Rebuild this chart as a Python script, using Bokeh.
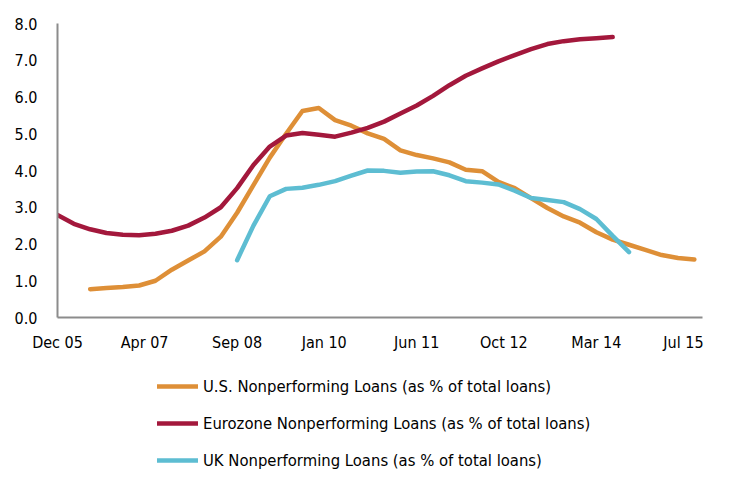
from bokeh.plotting import figure
from bokeh.layouts import column
from bokeh.models import Range1d, FixedTicker, NumeralTickFormatter, Legend, LegendItem
from bokeh.embed import file_html
from bokeh.resources import INLINE

# Quarterly observations; x = months since Dec 2005
tick_months = [0, 16, 33, 49, 66, 82, 99, 115]
tick_labels = ["Dec 05", "Apr 07", "Sep 08", "Jan 10", "Jun 11", "Oct 12", "Mar 14", "Jul 15"]

us_months = list(range(6, 118, 3))
us_values = [0.77, 0.80, 0.83, 0.87, 1.00, 1.30, 1.55, 1.80, 2.20, 2.85,
             3.60, 4.35, 5.00, 5.62, 5.70, 5.37, 5.22, 5.01, 4.86, 4.55,
             4.42, 4.33, 4.22, 4.02, 3.98, 3.69, 3.52, 3.25, 2.98, 2.75,
             2.58, 2.32, 2.12, 1.98, 1.84, 1.70, 1.62, 1.58]

ez_months = list(range(0, 103, 3))
ez_values = [2.79, 2.55, 2.40, 2.30, 2.25, 2.24, 2.28, 2.36, 2.50, 2.72,
             3.00, 3.52, 4.15, 4.65, 4.95, 5.02, 4.97, 4.92, 5.03, 5.16,
             5.33, 5.55, 5.77, 6.03, 6.32, 6.58, 6.78, 6.97, 7.14, 7.30,
             7.44, 7.52, 7.57, 7.60, 7.63]

uk_months = list(range(33, 106, 3))
uk_values = [1.56, 2.50, 3.30, 3.50, 3.53, 3.61, 3.71, 3.86, 4.00, 3.99,
             3.94, 3.97, 3.98, 3.87, 3.71, 3.67, 3.62, 3.45, 3.25, 3.20,
             3.14, 2.95, 2.68, 2.22, 1.78]

series_names = ["U.S. Nonperforming Loans (as % of total loans)",
                "Eurozone Nonperforming Loans (as % of total loans)",
                "UK Nonperforming Loans (as % of total loans)"]
colors = ["#DE8F37", "#A3183C", "#5DBDD2"]

FONT = "'DejaVu Sans Condensed', Roboto"
LW = 4.5

# ---- main chart ----
p = figure(width=749, height=360, output_backend="svg", toolbar_location=None,
           x_range=Range1d(0, 118.5), y_range=Range1d(0, 8),
           min_border_left=57, min_border_right=47, min_border_top=23,
           min_border_bottom=43)
p.outline_line_color = None
p.grid.visible = False

p.line(us_months, us_values, line_color=colors[0], line_width=LW, line_cap="round", line_join="round")
p.line(ez_months, ez_values, line_color=colors[1], line_width=LW, line_cap="round", line_join="round")
p.line(uk_months, uk_values, line_color=colors[2], line_width=LW, line_cap="round", line_join="round")

for ax in (p.xaxis[0], p.yaxis[0]):
    ax.axis_line_color = "#8C8C8C"
    ax.axis_line_width = 2
    ax.major_tick_line_color = None
    ax.minor_tick_line_color = None
    ax.major_label_text_font = FONT
    ax.major_label_text_color = "#000000"

p.xaxis.ticker = FixedTicker(ticks=tick_months)
p.xaxis.major_label_overrides = {m: l for m, l in zip(tick_months, tick_labels)}
p.xaxis.major_label_text_font_size = "16px"
p.xaxis.major_label_standoff = 9

p.yaxis.ticker = FixedTicker(ticks=[0, 1, 2, 3, 4, 5, 6, 7, 8])
p.yaxis.formatter = NumeralTickFormatter(format="0.0")
p.yaxis.major_label_text_font_size = "16px"
p.yaxis.major_label_standoff = 14

# ---- legend panel below ----
q = figure(width=749, height=126, output_backend="svg", toolbar_location=None,
           x_axis_type=None, y_axis_type=None,
           x_range=Range1d(0, 1), y_range=Range1d(0, 1),
           min_border_left=0, min_border_right=0, min_border_top=0, min_border_bottom=0)
q.outline_line_color = None
q.grid.visible = False

# legend-only renderers (placed outside the visible range)
l_us = q.line([5, 6], [5, 6], line_color=colors[0], line_width=LW, line_cap="round")
l_ez = q.line([5, 6], [5, 6], line_color=colors[1], line_width=LW, line_cap="round")
l_uk = q.line([5, 6], [5, 6], line_color=colors[2], line_width=LW, line_cap="round")

legend = Legend(items=[LegendItem(label=series_names[0], renderers=[l_us]),
                       LegendItem(label=series_names[1], renderers=[l_ez]),
                       LegendItem(label=series_names[2], renderers=[l_uk])],
                location=(100, 16), orientation="vertical",
                background_fill_alpha=0, border_line_color=None,
                padding=0, margin=0, spacing=17,
                glyph_width=41, glyph_height=20, label_height=20,
                label_standoff=5, label_text_font=FONT,
                label_text_font_size="16.5px", label_text_color="#000000")
q.add_layout(legend, "center")

layout = column(p, q, spacing=0)
open("out.html", "w").write(file_html(layout, INLINE))
